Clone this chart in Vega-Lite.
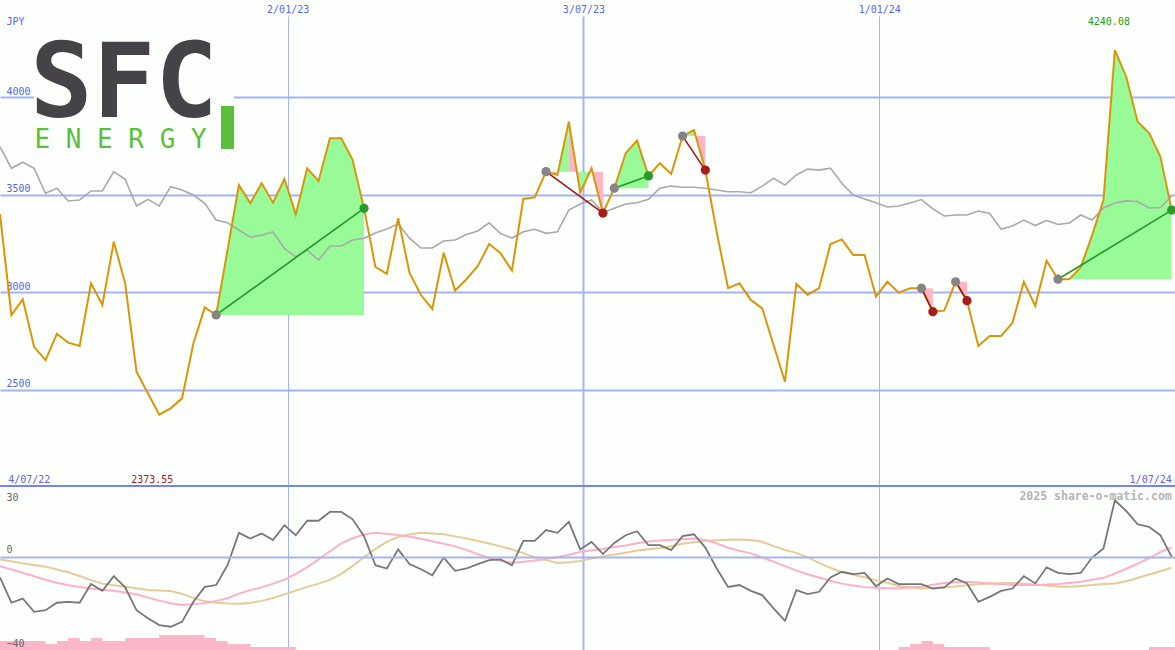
{
  "$schema": "https://vega.github.io/schema/vega-lite/v6.json",
  "padding": 0,
  "spacing": 0,
  "background": "#fcfffc",
  "config": {
    "view": {"stroke": null},
    "axis": {"labelFont": "DejaVu Sans Mono", "labelFontSize": 10}
  },
  "datasets": {
    "weekly": [
      {"date":"2022-07-09","close":3400,"avg":3746,"mom":-8.8,"fast":-4.0,"slow":-1.1,"vol":3},
      {"date":"2022-07-16","close":2884,"avg":3635,"mom":-19.7,"fast":-5.4,"slow":-1.9,"vol":3},
      {"date":"2022-07-23","close":2964,"avg":3666,"mom":-17.9,"fast":-6.8,"slow":-2.8,"vol":3},
      {"date":"2022-07-30","close":2721,"avg":3635,"mom":-23.6,"fast":-8.3,"slow":-3.5,"vol":3},
      {"date":"2022-08-06","close":2653,"avg":3507,"mom":-22.9,"fast":-9.8,"slow":-4.2,"vol":2},
      {"date":"2022-08-13","close":2787,"avg":3533,"mom":-19.7,"fast":-11.1,"slow":-5.4,"vol":3},
      {"date":"2022-08-20","close":2742,"avg":3468,"mom":-19.3,"fast":-12.2,"slow":-6.6,"vol":4},
      {"date":"2022-08-27","close":2725,"avg":3473,"mom":-19.7,"fast":-12.9,"slow":-8.2,"vol":3},
      {"date":"2022-09-03","close":3046,"avg":3519,"mom":-11.7,"fast":-13.6,"slow":-10.0,"vol":4},
      {"date":"2022-09-10","close":2935,"avg":3519,"mom":-14.6,"fast":-14.1,"slow":-11.5,"vol":3},
      {"date":"2022-09-17","close":3259,"avg":3618,"mom":-8.3,"fast":-14.6,"slow":-12.2,"vol":3},
      {"date":"2022-09-24","close":3046,"avg":3579,"mom":-13.1,"fast":-15.3,"slow":-12.8,"vol":4},
      {"date":"2022-10-01","close":2594,"avg":3442,"mom":-22.9,"fast":-16.1,"slow":-13.5,"vol":4},
      {"date":"2022-10-08","close":2483,"avg":3476,"mom":-26.4,"fast":-17.5,"slow":-14.2,"vol":4},
      {"date":"2022-10-15","close":2373.55,"avg":3442,"mom":-29.3,"fast":-18.8,"slow":-14.4,"vol":5},
      {"date":"2022-10-22","close":2406,"avg":3541,"mom":-30.0,"fast":-19.9,"slow":-14.7,"vol":5},
      {"date":"2022-10-29","close":2457,"avg":3524,"mom":-27.9,"fast":-20.7,"slow":-15.9,"vol":5},
      {"date":"2022-11-05","close":2738,"avg":3498,"mom":-19.3,"fast":-20.3,"slow":-17.6,"vol":5},
      {"date":"2022-11-12","close":2923,"avg":3456,"mom":-12.9,"fast":-19.9,"slow":-19.1,"vol":4},
      {"date":"2022-11-19","close":2884,"avg":3370,"mom":-12.1,"fast":-18.9,"slow":-19.7,"vol":3},
      {"date":"2022-11-26","close":3217,"avg":3356,"mom":-3.6,"fast":-17.8,"slow":-20.0,"vol":2},
      {"date":"2022-12-03","close":3549,"avg":3319,"mom":10.3,"fast":-15.8,"slow":-20.1,"vol":2},
      {"date":"2022-12-10","close":3456,"avg":3282,"mom":7.9,"fast":-14.3,"slow":-19.8,"vol":1},
      {"date":"2022-12-17","close":3558,"avg":3293,"mom":10.0,"fast":-13.1,"slow":-18.9,"vol":1},
      {"date":"2022-12-24","close":3459,"avg":3309,"mom":7.2,"fast":-11.5,"slow":-17.7,"vol":1},
      {"date":"2022-12-31","close":3580,"avg":3225,"mom":13.6,"fast":-9.8,"slow":-16.1,"vol":1},
      {"date":"2023-01-07","close":3399,"avg":3182,"mom":9.3,"fast":-7.3,"slow":-14.5,"vol":0},
      {"date":"2023-01-14","close":3635,"avg":3217,"mom":15.5,"fast":-4.4,"slow":-12.9,"vol":0},
      {"date":"2023-01-21","close":3570,"avg":3165,"mom":15.5,"fast":-1.1,"slow":-11.5,"vol":0},
      {"date":"2023-01-28","close":3789,"avg":3237,"mom":19.3,"fast":2.4,"slow":-9.9,"vol":0},
      {"date":"2023-02-04","close":3789,"avg":3237,"mom":19.3,"fast":5.8,"slow":-7.3,"vol":0},
      {"date":"2023-02-11","close":3677,"avg":3268,"mom":16.1,"fast":8.0,"slow":-3.9,"vol":0},
      {"date":"2023-02-18","close":3430,"avg":3277,"mom":8.9,"fast":9.6,"slow":-0.1,"vol":0},
      {"date":"2023-02-25","close":3130,"avg":3304,"mom":-3.6,"fast":10.3,"slow":3.4,"vol":0},
      {"date":"2023-03-04","close":3094,"avg":3324,"mom":-5.0,"fast":9.9,"slow":6.4,"vol":0},
      {"date":"2023-03-11","close":3380,"avg":3350,"mom":3.2,"fast":9.4,"slow":8.6,"vol":0},
      {"date":"2023-03-18","close":3099,"avg":3277,"mom":-3.1,"fast":8.6,"slow":9.6,"vol":0},
      {"date":"2023-03-25","close":2986,"avg":3227,"mom":-5.3,"fast":7.8,"slow":10.3,"vol":0},
      {"date":"2023-04-01","close":2915,"avg":3227,"mom":-7.9,"fast":6.7,"slow":10.0,"vol":0},
      {"date":"2023-04-08","close":3203,"avg":3263,"mom":-0.3,"fast":5.6,"slow":9.7,"vol":0},
      {"date":"2023-04-15","close":3009,"avg":3268,"mom":-6.0,"fast":4.5,"slow":8.8,"vol":0},
      {"date":"2023-04-22","close":3067,"avg":3296,"mom":-5.0,"fast":3.0,"slow":7.9,"vol":0},
      {"date":"2023-04-29","close":3135,"avg":3314,"mom":-3.1,"fast":1.1,"slow":6.8,"vol":0},
      {"date":"2023-05-06","close":3247,"avg":3356,"mom":-1.4,"fast":-0.5,"slow":5.7,"vol":0},
      {"date":"2023-05-13","close":3200,"avg":3301,"mom":-1.1,"fast":-1.7,"slow":4.5,"vol":0},
      {"date":"2023-05-20","close":3111,"avg":3278,"mom":-3.6,"fast":-2.5,"slow":3.2,"vol":0},
      {"date":"2023-05-27","close":3478,"avg":3310,"mom":6.9,"fast":-2.1,"slow":1.6,"vol":0},
      {"date":"2023-06-03","close":3486,"avg":3323,"mom":6.9,"fast":-1.6,"slow":-0.2,"vol":0},
      {"date":"2023-06-10","close":3618,"avg":3302,"mom":11.5,"fast":-0.9,"slow":-1.4,"vol":0},
      {"date":"2023-06-17","close":3601,"avg":3310,"mom":10.3,"fast":-0.2,"slow":-2.6,"vol":0},
      {"date":"2023-06-24","close":3874,"avg":3421,"mom":15.0,"fast":0.9,"slow":-2.3,"vol":0},
      {"date":"2023-07-01","close":3510,"avg":3452,"mom":3.2,"fast":2.1,"slow":-1.8,"vol":0},
      {"date":"2023-07-08","close":3635,"avg":3473,"mom":6.4,"fast":2.8,"slow":-0.7,"vol":0},
      {"date":"2023-07-15","close":3406,"avg":3408,"mom":1.2,"fast":3.4,"slow":0.2,"vol":0},
      {"date":"2023-07-22","close":3533,"avg":3430,"mom":6.0,"fast":4.2,"slow":1.0,"vol":0},
      {"date":"2023-07-29","close":3712,"avg":3452,"mom":9.3,"fast":4.9,"slow":1.8,"vol":0},
      {"date":"2023-08-05","close":3777,"avg":3459,"mom":11.0,"fast":5.8,"slow":2.7,"vol":0},
      {"date":"2023-08-12","close":3596,"avg":3476,"mom":5.0,"fast":6.6,"slow":3.3,"vol":0},
      {"date":"2023-08-19","close":3661,"avg":3533,"mom":5.0,"fast":7.0,"slow":3.8,"vol":0},
      {"date":"2023-08-26","close":3606,"avg":3544,"mom":2.9,"fast":7.3,"slow":4.6,"vol":0},
      {"date":"2023-09-02","close":3800,"avg":3538,"mom":8.9,"fast":7.6,"slow":5.6,"vol":0},
      {"date":"2023-09-09","close":3831,"avg":3538,"mom":9.7,"fast":7.9,"slow":6.3,"vol":0},
      {"date":"2023-09-16","close":3626,"avg":3533,"mom":4.0,"fast":7.2,"slow":6.8,"vol":0},
      {"date":"2023-09-23","close":3309,"avg":3524,"mom":-5.0,"fast":5.8,"slow":7.1,"vol":0},
      {"date":"2023-09-30","close":3021,"avg":3515,"mom":-12.9,"fast":3.9,"slow":7.3,"vol":0},
      {"date":"2023-10-07","close":3046,"avg":3515,"mom":-12.1,"fast":2.6,"slow":7.5,"vol":0},
      {"date":"2023-10-14","close":2961,"avg":3510,"mom":-14.6,"fast":1.5,"slow":7.2,"vol":0},
      {"date":"2023-10-21","close":2918,"avg":3544,"mom":-16.4,"fast":-0.3,"slow":6.5,"vol":0},
      {"date":"2023-10-28","close":2730,"avg":3584,"mom":-22.1,"fast":-2.1,"slow":4.6,"vol":0},
      {"date":"2023-11-04","close":2542,"avg":3549,"mom":-27.5,"fast":-4.0,"slow":3.0,"vol":0},
      {"date":"2023-11-11","close":3043,"avg":3601,"mom":-14.3,"fast":-5.9,"slow":1.7,"vol":0},
      {"date":"2023-11-18","close":2988,"avg":3631,"mom":-16.0,"fast":-7.5,"slow":-0.2,"vol":0},
      {"date":"2023-11-25","close":3021,"avg":3626,"mom":-15.0,"fast":-8.9,"slow":-2.6,"vol":0},
      {"date":"2023-12-02","close":3247,"avg":3636,"mom":-8.8,"fast":-10.3,"slow":-4.7,"vol":0},
      {"date":"2023-12-09","close":3271,"avg":3558,"mom":-6.4,"fast":-11.5,"slow":-6.6,"vol":0},
      {"date":"2023-12-16","close":3191,"avg":3498,"mom":-7.4,"fast":-12.3,"slow":-7.7,"vol":0},
      {"date":"2023-12-23","close":3191,"avg":3478,"mom":-6.9,"fast":-13.0,"slow":-8.8,"vol":0},
      {"date":"2023-12-30","close":2978,"avg":3459,"mom":-12.6,"fast":-13.3,"slow":-10.0,"vol":0},
      {"date":"2024-01-06","close":3054,"avg":3437,"mom":-9.3,"fast":-13.5,"slow":-11.1,"vol":0},
      {"date":"2024-01-13","close":2998,"avg":3442,"mom":-11.7,"fast":-13.5,"slow":-12.5,"vol":1},
      {"date":"2024-01-20","close":3021,"avg":3457,"mom":-11.7,"fast":-13.2,"slow":-13.1,"vol":2},
      {"date":"2024-01-27","close":3021,"avg":3475,"mom":-11.7,"fast":-12.8,"slow":-13.6,"vol":3},
      {"date":"2024-02-03","close":2901,"avg":3427,"mom":-13.6,"fast":-12.0,"slow":-13.4,"vol":2},
      {"date":"2024-02-10","close":2906,"avg":3391,"mom":-13.1,"fast":-11.2,"slow":-13.1,"vol":1},
      {"date":"2024-02-17","close":3054,"avg":3396,"mom":-9.3,"fast":-10.9,"slow":-12.7,"vol":1},
      {"date":"2024-02-24","close":2957,"avg":3396,"mom":-11.4,"fast":-10.7,"slow":-12.2,"vol":1},
      {"date":"2024-03-02","close":2725,"avg":3416,"mom":-19.3,"fast":-11.0,"slow":-11.8,"vol":1},
      {"date":"2024-03-09","close":2776,"avg":3404,"mom":-17.2,"fast":-11.4,"slow":-11.4,"vol":0},
      {"date":"2024-03-16","close":2776,"avg":3324,"mom":-14.6,"fast":-11.7,"slow":-11.3,"vol":0},
      {"date":"2024-03-23","close":2844,"avg":3340,"mom":-13.6,"fast":-12.1,"slow":-11.2,"vol":0},
      {"date":"2024-03-30","close":3054,"avg":3370,"mom":-8.3,"fast":-12.1,"slow":-11.5,"vol":0},
      {"date":"2024-04-06","close":2930,"avg":3342,"mom":-11.4,"fast":-12.1,"slow":-11.9,"vol":0},
      {"date":"2024-04-13","close":3162,"avg":3368,"mom":-4.5,"fast":-11.9,"slow":-12.3,"vol":0},
      {"date":"2024-04-20","close":3067,"avg":3347,"mom":-6.9,"fast":-11.7,"slow":-12.7,"vol":0},
      {"date":"2024-04-27","close":3067,"avg":3355,"mom":-7.4,"fast":-11.2,"slow":-12.8,"vol":0},
      {"date":"2024-05-04","close":3128,"avg":3396,"mom":-6.9,"fast":-10.7,"slow":-12.5,"vol":0},
      {"date":"2024-05-11","close":3293,"avg":3370,"mom":-0.3,"fast":-9.8,"slow":-12.1,"vol":0},
      {"date":"2024-05-18","close":3473,"avg":3432,"mom":3.6,"fast":-9.0,"slow":-11.7,"vol":0},
      {"date":"2024-05-25","close":4240.08,"avg":3457,"mom":24.3,"fast":-7.2,"slow":-11.4,"vol":0},
      {"date":"2024-06-01","close":4104,"avg":3468,"mom":19.7,"fast":-5.1,"slow":-10.5,"vol":0},
      {"date":"2024-06-08","close":3874,"avg":3465,"mom":14.0,"fast":-2.9,"slow":-9.1,"vol":0},
      {"date":"2024-06-15","close":3817,"avg":3432,"mom":12.9,"fast":-0.6,"slow":-7.6,"vol":1},
      {"date":"2024-06-22","close":3695,"avg":3434,"mom":9.3,"fast":2.1,"slow":-6.2,"vol":1},
      {"date":"2024-06-29","close":3421,"avg":3493,"mom":0.0,"fast":4.0,"slow":-4.7,"vol":1},
      {"date":"2024-07-06","vol":1}
    ],
    "fills": [
      {"g":"t1","cls":"up","level":2884,"date":"2022-11-19","price":2884},
      {"g":"t1","cls":"up","level":2884,"date":"2022-11-26","price":3217},
      {"g":"t1","cls":"up","level":2884,"date":"2022-12-03","price":3549},
      {"g":"t1","cls":"up","level":2884,"date":"2022-12-10","price":3456},
      {"g":"t1","cls":"up","level":2884,"date":"2022-12-17","price":3558},
      {"g":"t1","cls":"up","level":2884,"date":"2022-12-24","price":3459},
      {"g":"t1","cls":"up","level":2884,"date":"2022-12-31","price":3580},
      {"g":"t1","cls":"up","level":2884,"date":"2023-01-07","price":3399},
      {"g":"t1","cls":"up","level":2884,"date":"2023-01-14","price":3635},
      {"g":"t1","cls":"up","level":2884,"date":"2023-01-21","price":3570},
      {"g":"t1","cls":"up","level":2884,"date":"2023-01-28","price":3789},
      {"g":"t1","cls":"up","level":2884,"date":"2023-02-04","price":3789},
      {"g":"t1","cls":"up","level":2884,"date":"2023-02-11","price":3677},
      {"g":"t1","cls":"up","level":2884,"date":"2023-02-18","price":3430},
      {"g":"t2a","cls":"down","level":3618,"date":"2023-06-10","price":3618},
      {"g":"t2a","cls":"down","level":3618,"date":"2023-06-17","price":3601},
      {"g":"t2b","cls":"up","level":3618,"date":"2023-06-17","price":3601},
      {"g":"t2b","cls":"up","level":3618,"date":"2023-06-24","price":3874},
      {"g":"t2c","cls":"down","level":3618,"date":"2023-06-24","price":3874},
      {"g":"t2c","cls":"down","level":3618,"date":"2023-07-01","price":3510},
      {"g":"t2d","cls":"up","level":3618,"date":"2023-07-01","price":3510},
      {"g":"t2d","cls":"up","level":3618,"date":"2023-07-08","price":3635},
      {"g":"t2e","cls":"down","level":3618,"date":"2023-07-08","price":3635},
      {"g":"t2e","cls":"down","level":3618,"date":"2023-07-15","price":3406},
      {"g":"t3","cls":"up","level":3533,"date":"2023-07-22","price":3533},
      {"g":"t3","cls":"up","level":3533,"date":"2023-07-29","price":3712},
      {"g":"t3","cls":"up","level":3533,"date":"2023-08-05","price":3777},
      {"g":"t3","cls":"up","level":3533,"date":"2023-08-12","price":3596},
      {"g":"t4a","cls":"up","level":3800,"date":"2023-09-02","price":3800},
      {"g":"t4a","cls":"up","level":3800,"date":"2023-09-09","price":3831},
      {"g":"t4b","cls":"down","level":3800,"date":"2023-09-09","price":3831},
      {"g":"t4b","cls":"down","level":3800,"date":"2023-09-16","price":3626},
      {"g":"t5","cls":"down","level":3021,"date":"2024-01-27","price":3021},
      {"g":"t5","cls":"down","level":3021,"date":"2024-02-03","price":2901},
      {"g":"t6","cls":"down","level":3054,"date":"2024-02-17","price":3054},
      {"g":"t6","cls":"down","level":3054,"date":"2024-02-24","price":2957},
      {"g":"t7","cls":"up","level":3067,"date":"2024-04-20","price":3067},
      {"g":"t7","cls":"up","level":3067,"date":"2024-04-27","price":3067},
      {"g":"t7","cls":"up","level":3067,"date":"2024-05-04","price":3128},
      {"g":"t7","cls":"up","level":3067,"date":"2024-05-11","price":3293},
      {"g":"t7","cls":"up","level":3067,"date":"2024-05-18","price":3473},
      {"g":"t7","cls":"up","level":3067,"date":"2024-05-25","price":4240.08},
      {"g":"t7","cls":"up","level":3067,"date":"2024-06-01","price":4104},
      {"g":"t7","cls":"up","level":3067,"date":"2024-06-08","price":3874},
      {"g":"t7","cls":"up","level":3067,"date":"2024-06-15","price":3817},
      {"g":"t7","cls":"up","level":3067,"date":"2024-06-22","price":3695},
      {"g":"t7","cls":"up","level":3067,"date":"2024-06-29","price":3421}
    ],
    "trades": [
      {"trade":1,"role":"entry","outcome":"win","date":"2022-11-19","price":2884},
      {"trade":1,"role":"exit","outcome":"win","date":"2023-02-18","price":3430},
      {"trade":2,"role":"entry","outcome":"loss","date":"2023-06-10","price":3618},
      {"trade":2,"role":"exit","outcome":"loss","date":"2023-07-15","price":3406},
      {"trade":3,"role":"entry","outcome":"win","date":"2023-07-22","price":3533},
      {"trade":3,"role":"exit","outcome":"win","date":"2023-08-12","price":3596},
      {"trade":4,"role":"entry","outcome":"loss","date":"2023-09-02","price":3800},
      {"trade":4,"role":"exit","outcome":"loss","date":"2023-09-16","price":3626},
      {"trade":5,"role":"entry","outcome":"loss","date":"2024-01-27","price":3021},
      {"trade":5,"role":"exit","outcome":"loss","date":"2024-02-03","price":2901},
      {"trade":6,"role":"entry","outcome":"loss","date":"2024-02-17","price":3054},
      {"trade":6,"role":"exit","outcome":"loss","date":"2024-02-24","price":2957},
      {"trade":7,"role":"entry","outcome":"win","date":"2024-04-20","price":3067},
      {"trade":7,"role":"exit","outcome":"win","date":"2024-06-29","price":3421}
    ]
  },
  "vconcat": [
    {
      "width": 1175,
      "height": 471,
      "data": {"name": "weekly"},
      "resolve": {"scale": {"color": "independent"}},
      "layer": [
        {
          "data": {"name": "fills"},
          "mark": {"type": "area", "interpolate": "linear", "clip": true},
          "encoding": {
            "x": {"field": "date", "type": "temporal", "title": null,
              "scale": {"type": "utc", "domain": [{"year":2022,"month":7,"date":9,"utc":true},{"year":2024,"month":7,"date":1,"utc":true}]},
              "axis": {"orient": "top", "values": [{"year":2023,"month":1,"date":2,"utc":true},{"year":2023,"month":7,"date":3,"utc":true},{"year":2024,"month":1,"date":1,"utc":true}],
                "format": "%-d/%m/%y", "grid": true, "gridColor": "#a6b3f3",
                "gridWidth": {"condition": {"test": "utcmonth(datum.value) == 6", "value": 2}, "value": 1},
                "domain": false, "ticks": false, "tickSize": 0, "labelPadding": 2, "labelColor": "#5a64f0",
                "minExtent": 16, "maxExtent": 16, "title": null}},
            "y": {"field": "price", "type": "quantitative", "stack": null, "title": null,
              "scale": {"domain": [2003, 4415], "nice": false, "zero": false},
              "axis": {"orient": "left", "values": [2500, 3000, 3500, 4000], "format": "d", "grid": true, "gridColor": "#a6b3f3", "gridWidth": 2,
                "domain": false, "ticks": false, "tickSize": 0, "labelAlign": "left", "labelPadding": -6,
                "labelBaseline": "bottom", "labelOffset": -1, "labelColor": "#5a64f0", "minExtent": 0, "maxExtent": 0, "title": null}},
            "y2": {"field": "level"},
            "detail": {"field": "g"},
            "color": {"field": "cls", "type": "nominal", "scale": {"domain": ["up", "down"], "range": ["#98fb98", "#ffb6c4"]}, "legend": null}
          }
        },
        {
          "mark": {"type": "line", "color": "#a9a9a9", "strokeWidth": 1.6, "clip": true},
          "encoding": {
            "x": {"field": "date", "type": "temporal", "title": null,
              "scale": {"type": "utc", "domain": [{"year":2022,"month":7,"date":9,"utc":true},{"year":2024,"month":7,"date":1,"utc":true}]}},
            "y": {"field": "avg", "type": "quantitative", "title": null,
              "scale": {"domain": [2003, 4415], "nice": false, "zero": false}}
          }
        },
        {
          "mark": {"type": "line", "color": "#d9960b", "strokeWidth": 2, "clip": true},
          "encoding": {
            "x": {"field": "date", "type": "temporal", "title": null,
              "scale": {"type": "utc", "domain": [{"year":2022,"month":7,"date":9,"utc":true},{"year":2024,"month":7,"date":1,"utc":true}]}},
            "y": {"field": "close", "type": "quantitative", "title": null,
              "scale": {"domain": [2003, 4415], "nice": false, "zero": false}}
          }
        },
        {
          "data": {"name": "trades"},
          "mark": {"type": "line", "strokeWidth": 1.6, "clip": true},
          "encoding": {
            "x": {"field": "date", "type": "temporal", "title": null,
              "scale": {"type": "utc", "domain": [{"year":2022,"month":7,"date":9,"utc":true},{"year":2024,"month":7,"date":1,"utc":true}]}},
            "y": {"field": "price", "type": "quantitative", "title": null,
              "scale": {"domain": [2003, 4415], "nice": false, "zero": false}},
            "detail": {"field": "trade"},
            "color": {"field": "outcome", "type": "nominal", "scale": {"domain": ["win", "loss"], "range": ["#1f9a1f", "#9c1a1a"]}, "legend": null}
          }
        },
        {
          "data": {"name": "trades"},
          "transform": [{"filter": "datum.role == 'entry'"}],
          "mark": {"type": "circle", "size": 85, "opacity": 1, "color": "#858585", "clip": true},
          "encoding": {
            "x": {"field": "date", "type": "temporal", "title": null,
              "scale": {"type": "utc", "domain": [{"year":2022,"month":7,"date":9,"utc":true},{"year":2024,"month":7,"date":1,"utc":true}]}},
            "y": {"field": "price", "type": "quantitative", "title": null,
              "scale": {"domain": [2003, 4415], "nice": false, "zero": false}}
          }
        },
        {
          "data": {"name": "trades"},
          "transform": [{"filter": "datum.role == 'exit'"}],
          "mark": {"type": "circle", "size": 85, "opacity": 1, "clip": true},
          "encoding": {
            "x": {"field": "date", "type": "temporal", "title": null,
              "scale": {"type": "utc", "domain": [{"year":2022,"month":7,"date":9,"utc":true},{"year":2024,"month":7,"date":1,"utc":true}]}},
            "y": {"field": "price", "type": "quantitative", "title": null,
              "scale": {"domain": [2003, 4415], "nice": false, "zero": false}},
            "color": {"field": "outcome", "type": "nominal", "scale": {"domain": ["win", "loss"], "range": ["#2a9a2a", "#a81c1c"]}, "legend": null}
          }
        },
        {
          "data": {"values": [{}]},
          "mark": {"type": "rect", "color": "#fcfffc"},
          "encoding": {
            "x": {"datum": {"year":2022,"month":7,"date":30,"utc":true}, "type": "temporal", "title": null,
              "scale": {"type": "utc", "domain": [{"year":2022,"month":7,"date":9,"utc":true},{"year":2024,"month":7,"date":1,"utc":true}]}},
            "x2": {"datum": {"year":2022,"month":11,"date":30,"utc":true}},
            "y": {"datum": 3790, "type": "quantitative", "title": null,
              "scale": {"domain": [2003, 4415], "nice": false, "zero": false}},
            "y2": {"datum": 4250}
          }
        },
        {
          "data": {"values": [{}]},
          "mark": {"type": "text", "text": "SFC", "align": "left", "baseline": "alphabetic", "font": "DejaVu Sans Mono", "fontWeight": "bold", "fontSize": 104, "color": "#454347"},
          "encoding": {
            "x": {"datum": {"year":2022,"month":7,"date":27,"hours":12,"utc":true}, "type": "temporal", "title": null,
              "scale": {"type": "utc", "domain": [{"year":2022,"month":7,"date":9,"utc":true},{"year":2024,"month":7,"date":1,"utc":true}]}},
            "y": {"datum": 3898, "type": "quantitative", "title": null,
              "scale": {"domain": [2003, 4415], "nice": false, "zero": false}}
          }
        },
        {
          "data": {"values": [{}]},
          "mark": {"type": "text", "text": "E N E R G Y", "align": "left", "baseline": "alphabetic", "font": "DejaVu Sans Mono", "fontSize": 26, "color": "#5cbf3b"},
          "encoding": {
            "x": {"datum": {"year":2022,"month":7,"date":30,"hours":4,"utc":true}, "type": "temporal", "title": null,
              "scale": {"type": "utc", "domain": [{"year":2022,"month":7,"date":9,"utc":true},{"year":2024,"month":7,"date":1,"utc":true}]}},
            "y": {"datum": 3739, "type": "quantitative", "title": null,
              "scale": {"domain": [2003, 4415], "nice": false, "zero": false}}
          }
        },
        {
          "data": {"values": [{}]},
          "mark": {"type": "rect", "color": "#5cbf3b"},
          "encoding": {
            "x": {"datum": {"year":2022,"month":11,"date":22,"utc":true}, "type": "temporal", "title": null,
              "scale": {"type": "utc", "domain": [{"year":2022,"month":7,"date":9,"utc":true},{"year":2024,"month":7,"date":1,"utc":true}]}},
            "x2": {"datum": {"year":2022,"month":11,"date":30,"utc":true}},
            "y": {"datum": 3734, "type": "quantitative", "title": null,
              "scale": {"domain": [2003, 4415], "nice": false, "zero": false}},
            "y2": {"datum": 3954}
          }
        },
        {
          "data": {"values": [{}]},
          "mark": {"type": "text", "text": "JPY", "align": "left", "baseline": "alphabetic", "font": "DejaVu Sans Mono", "fontSize": 10, "color": "#5a64f0"},
          "encoding": {
            "x": {"datum": {"year":2022,"month":7,"date":13,"utc":true}, "type": "temporal", "title": null,
              "scale": {"type": "utc", "domain": [{"year":2022,"month":7,"date":9,"utc":true},{"year":2024,"month":7,"date":1,"utc":true}]}},
            "y": {"datum": 4369, "type": "quantitative", "title": null,
              "scale": {"domain": [2003, 4415], "nice": false, "zero": false}}
          }
        },
        {
          "transform": [{"joinaggregate": [{"op": "max", "field": "close", "as": "top"}]}, {"filter": "datum.close == datum.top"}],
          "mark": {"type": "text", "align": "center", "baseline": "alphabetic", "dx": -6, "font": "DejaVu Sans Mono", "fontSize": 10, "color": "#1f9a1f"},
          "encoding": {
            "x": {"field": "date", "type": "temporal", "title": null,
              "scale": {"type": "utc", "domain": [{"year":2022,"month":7,"date":9,"utc":true},{"year":2024,"month":7,"date":1,"utc":true}]}},
            "y": {"datum": 4369, "type": "quantitative", "title": null,
              "scale": {"domain": [2003, 4415], "nice": false, "zero": false}},
            "text": {"field": "close", "type": "quantitative", "format": ".2f"}
          }
        },
        {
          "transform": [{"joinaggregate": [{"op": "min", "field": "close", "as": "low"}]}, {"filter": "datum.close == datum.low"}],
          "mark": {"type": "text", "align": "center", "baseline": "alphabetic", "dx": -7, "font": "DejaVu Sans Mono", "fontSize": 10, "color": "#a01c1c"},
          "encoding": {
            "x": {"field": "date", "type": "temporal", "title": null,
              "scale": {"type": "utc", "domain": [{"year":2022,"month":7,"date":9,"utc":true},{"year":2024,"month":7,"date":1,"utc":true}]}},
            "y": {"datum": 2024, "type": "quantitative", "title": null,
              "scale": {"domain": [2003, 4415], "nice": false, "zero": false}},
            "text": {"field": "close", "type": "quantitative", "format": ".2f"}
          }
        },
        {
          "data": {"values": [{}]},
          "mark": {"type": "text", "text": "4/07/22", "align": "left", "baseline": "alphabetic", "font": "DejaVu Sans Mono", "fontSize": 10, "color": "#5a64f0"},
          "encoding": {
            "x": {"datum": {"year":2022,"month":7,"date":14,"utc":true}, "type": "temporal", "title": null,
              "scale": {"type": "utc", "domain": [{"year":2022,"month":7,"date":9,"utc":true},{"year":2024,"month":7,"date":1,"utc":true}]}},
            "y": {"datum": 2024, "type": "quantitative", "title": null,
              "scale": {"domain": [2003, 4415], "nice": false, "zero": false}}
          }
        },
        {
          "data": {"values": [{}]},
          "mark": {"type": "text", "text": "1/07/24", "align": "right", "baseline": "alphabetic", "font": "DejaVu Sans Mono", "fontSize": 10, "color": "#5a64f0"},
          "encoding": {
            "x": {"datum": {"year":2024,"month":6,"date":29,"utc":true}, "type": "temporal", "title": null,
              "scale": {"type": "utc", "domain": [{"year":2022,"month":7,"date":9,"utc":true},{"year":2024,"month":7,"date":1,"utc":true}]}},
            "y": {"datum": 2024, "type": "quantitative", "title": null,
              "scale": {"domain": [2003, 4415], "nice": false, "zero": false}}
          }
        },
        {
          "data": {"values": [{}]},
          "mark": {"type": "rule", "color": "#7585ef", "strokeWidth": 2, "clip": true},
          "encoding": {
            "y": {"datum": 2008, "type": "quantitative", "title": null,
              "scale": {"domain": [2003, 4415], "nice": false, "zero": false}}
          }
        }
      ]
    },
    {
      "width": 1175,
      "height": 163,
      "data": {"name": "weekly"},
      "resolve": {"scale": {"y": "independent"}},
      "layer": [
        {
          "mark": {"type": "area", "interpolate": "step-after", "color": "#fbb6c9", "clip": true},
          "encoding": {
            "x": {"field": "date", "type": "temporal", "title": null,
              "scale": {"type": "utc", "domain": [{"year":2022,"month":7,"date":9,"utc":true},{"year":2024,"month":7,"date":1,"utc":true}]},
              "axis": {"orient": "bottom", "values": [{"year":2023,"month":1,"date":2,"utc":true},{"year":2023,"month":7,"date":3,"utc":true},{"year":2024,"month":1,"date":1,"utc":true}],
                "grid": true, "gridColor": "#a6b3f3",
                "gridWidth": {"condition": {"test": "utcmonth(datum.value) == 6", "value": 2}, "value": 1},
                "labels": false, "domain": false, "ticks": false, "tickSize": 0, "minExtent": 0, "maxExtent": 0, "title": null}},
            "y": {"field": "vol", "type": "quantitative", "title": null, "axis": null,
              "scale": {"domain": [0, 54.3], "nice": false, "zero": true}}
          }
        },
        {
          "mark": {"type": "line", "color": "#e6cb98", "strokeWidth": 2, "clip": true},
          "encoding": {
            "x": {"field": "date", "type": "temporal", "title": null,
              "scale": {"type": "utc", "domain": [{"year":2022,"month":7,"date":9,"utc":true},{"year":2024,"month":7,"date":1,"utc":true}]}},
            "y": {"field": "slow", "type": "quantitative", "title": null,
              "scale": {"domain": [-40, 30], "nice": false, "zero": false},
              "axis": {"orient": "left", "values": [-40, 0, 30], "zindex": 1, "grid": true, "gridColor": "#a6b3f3", "gridWidth": 2,
                "gridOpacity": {"condition": {"test": "datum.value == 0", "value": 1}, "value": 0},
                "domain": false, "ticks": false, "tickSize": 0, "labelAlign": "left", "labelPadding": -6,
                "labelBaseline": {"condition": {"test": "datum.value == 30", "value": "top"}, "value": "bottom"},
                "labelOffset": {"condition": {"test": "datum.value == 30", "value": 5}, "value": -2},
                "labelColor": "#666666", "minExtent": 0, "maxExtent": 0, "title": null}}
          }
        },
        {
          "mark": {"type": "line", "color": "#ffb0c8", "strokeWidth": 2, "clip": true},
          "encoding": {
            "x": {"field": "date", "type": "temporal", "title": null,
              "scale": {"type": "utc", "domain": [{"year":2022,"month":7,"date":9,"utc":true},{"year":2024,"month":7,"date":1,"utc":true}]}},
            "y": {"field": "fast", "type": "quantitative", "title": null, "axis": null,
              "scale": {"domain": [-40, 30], "nice": false, "zero": false}}
          }
        },
        {
          "mark": {"type": "line", "color": "#787878", "strokeWidth": 1.8, "clip": true},
          "encoding": {
            "x": {"field": "date", "type": "temporal", "title": null,
              "scale": {"type": "utc", "domain": [{"year":2022,"month":7,"date":9,"utc":true},{"year":2024,"month":7,"date":1,"utc":true}]}},
            "y": {"field": "mom", "type": "quantitative", "title": null, "axis": null,
              "scale": {"domain": [-40, 30], "nice": false, "zero": false}}
          }
        },
        {
          "data": {"values": [{}]},
          "mark": {"type": "text", "text": "2025 share-o-matic.com", "align": "right", "baseline": "alphabetic", "font": "DejaVu Sans Mono", "fontWeight": "bold", "fontSize": 11.5, "color": "#b4b4b4"},
          "encoding": {
            "x": {"datum": {"year":2024,"month":6,"date":29,"utc":true}, "type": "temporal", "title": null,
              "scale": {"type": "utc", "domain": [{"year":2022,"month":7,"date":9,"utc":true},{"year":2024,"month":7,"date":1,"utc":true}]}},
            "y": {"datum": 24.4, "type": "quantitative", "title": null, "axis": null,
              "scale": {"domain": [-40, 30], "nice": false, "zero": false}}
          }
        }
      ]
    }
  ]
}
